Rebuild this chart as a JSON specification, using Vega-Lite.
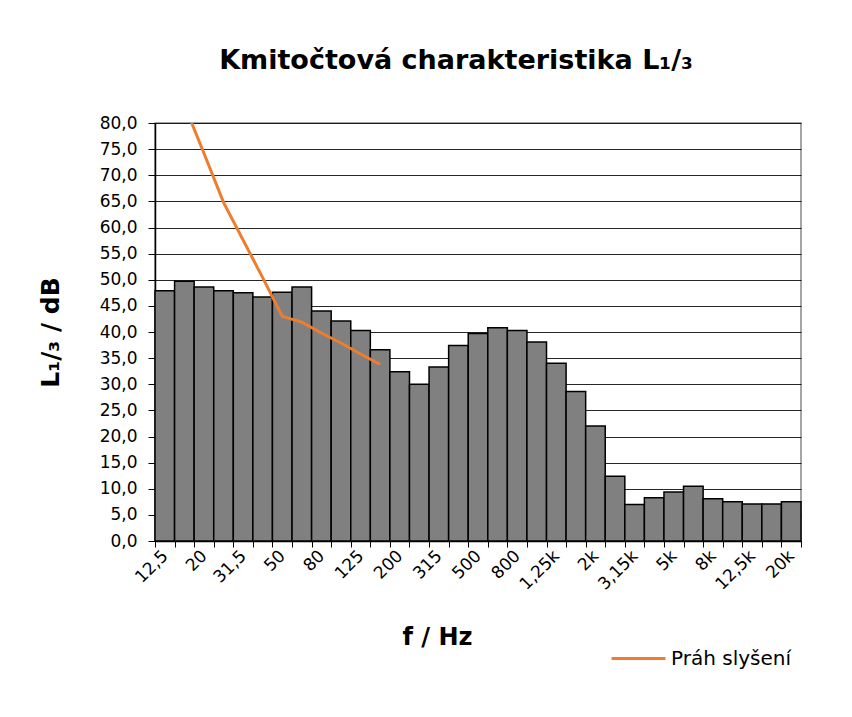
{
  "$schema": "https://vega.github.io/schema/vega-lite/v6.json",
  "autosize": "none",
  "width": 646,
  "height": 418,
  "padding": {"left": 155, "top": 123, "right": 51, "bottom": 176},
  "background": "white",
  "title": {
    "text": "Kmitočtová charakteristika L₁/₃",
    "font": "DejaVu Sans",
    "fontSize": 27,
    "fontWeight": "bold",
    "color": "black",
    "anchor": "middle",
    "dx": -22,
    "baseline": "alphabetic",
    "offset": 18
  },
  "datasets": {
    "bars": [
      {"band": "12,5", "L": 47.9},
      {"band": "16", "L": 49.7},
      {"band": "20", "L": 48.6},
      {"band": "25", "L": 47.9},
      {"band": "31,5", "L": 47.5},
      {"band": "40", "L": 46.7},
      {"band": "50", "L": 47.6},
      {"band": "63", "L": 48.6},
      {"band": "80", "L": 44.0},
      {"band": "100", "L": 42.1},
      {"band": "125", "L": 40.3},
      {"band": "160", "L": 36.6},
      {"band": "200", "L": 32.4},
      {"band": "250", "L": 30.0},
      {"band": "315", "L": 33.3},
      {"band": "400", "L": 37.4},
      {"band": "500", "L": 39.7},
      {"band": "630", "L": 40.8},
      {"band": "800", "L": 40.3},
      {"band": "1k", "L": 38.1},
      {"band": "1,25k", "L": 34.0},
      {"band": "1,6k", "L": 28.6},
      {"band": "2k", "L": 22.0},
      {"band": "2,5k", "L": 12.4},
      {"band": "3,15k", "L": 7.0},
      {"band": "4k", "L": 8.3},
      {"band": "5k", "L": 9.4},
      {"band": "6,3k", "L": 10.5},
      {"band": "8k", "L": 8.1},
      {"band": "10k", "L": 7.5},
      {"band": "12,5k", "L": 7.1},
      {"band": "16k", "L": 7.1},
      {"band": "20k", "L": 7.5}
    ],
    "threshold": [
      {"band": "16", "L": 83.5, "s": "Práh slyšení"},
      {"band": "20", "L": 74.2, "s": "Práh slyšení"},
      {"band": "25", "L": 64.8, "s": "Práh slyšení"},
      {"band": "31,5", "L": 57.6, "s": "Práh slyšení"},
      {"band": "40", "L": 50.4, "s": "Práh slyšení"},
      {"band": "50", "L": 43.0, "s": "Práh slyšení"},
      {"band": "63", "L": 41.9, "s": "Práh slyšení"},
      {"band": "80", "L": 39.8, "s": "Práh slyšení"},
      {"band": "100", "L": 37.9, "s": "Práh slyšení"},
      {"band": "125", "L": 35.8, "s": "Práh slyšení"},
      {"band": "160", "L": 33.8, "s": "Práh slyšení"}
    ]
  },
  "config": {
    "view": {"stroke": "#888888", "strokeWidth": 1.5},
    "axis": {
      "labelFont": "DejaVu Sans",
      "labelFontSize": 17,
      "labelColor": "black",
      "titleFont": "DejaVu Sans",
      "titleFontWeight": "bold",
      "titleColor": "black",
      "tickColor": "black",
      "domainColor": "black"
    }
  },
  "encoding": {
    "x": {
      "field": "band",
      "type": "nominal",
      "sort": ["12,5","16","20","25","31,5","40","50","63","80","100","125","160","200","250","315","400","500","630","800","1k","1,25k","1,6k","2k","2,5k","3,15k","4k","5k","6,3k","8k","10k","12,5k","16k","20k"],
      "scale": {"paddingInner": 0, "paddingOuter": 0},
      "axis": {
        "title": "f / Hz",
        "titleFontSize": 24,
        "titleX": 282,
        "titleY": 96,
        "titleBaseline": "middle",
        "labelAngle": -45,
        "labelAlign": "right",
        "labelBaseline": "middle",
        "labelPadding": 6,
        "labelOverlap": false,
        "tickBand": "extent",
        "tickSize": 6,
        "labelExpr": "indexof(['12,5','20','31,5','50','80','125','200','315','500','800','1,25k','2k','3,15k','5k','8k','12,5k','20k'], datum.label) >= 0 ? datum.label : ''",
        "grid": false,
        "domainColor": "black",
        "domainWidth": 1.5
      }
    },
    "y": {
      "field": "L",
      "type": "quantitative",
      "scale": {"domain": [0, 80], "nice": false},
      "axis": {
        "title": "L₁/₃ / dB",
        "titleFontSize": 25,
        "titlePadding": 36,
        "values": [0,5,10,15,20,25,30,35,40,45,50,55,60,65,70,75,80],
        "labelExpr": "replace(format(datum.value, '.1f'), '.', ',')",
        "labelOverlap": false,
        "labelPadding": 11,
        "tickSize": 7,
        "grid": true,
        "gridColor": "black",
        "gridWidth": 1,
        "gridOpacity": 0.85,
        "domainColor": "black",
        "domainWidth": 1.5
      }
    }
  },
  "layer": [
    {
      "data": {"name": "bars"},
      "mark": {"type": "bar", "fill": "#808080", "stroke": "black", "strokeWidth": 1.5}
    },
    {
      "data": {"name": "threshold"},
      "mark": {"type": "line", "strokeWidth": 3, "clip": true},
      "encoding": {
        "color": {
          "field": "s",
          "type": "nominal",
          "scale": {"range": ["#EE7D2D"]},
          "legend": {
            "title": null,
            "orient": "none",
            "legendX": 455,
            "legendY": 507,
            "symbolType": "stroke",
            "symbolSize": 2900,
            "symbolStrokeWidth": 3,
            "labelFont": "DejaVu Sans",
            "labelFontSize": 20,
            "labelColor": "black",
            "labelOffset": 4
          }
        }
      }
    }
  ]
}
